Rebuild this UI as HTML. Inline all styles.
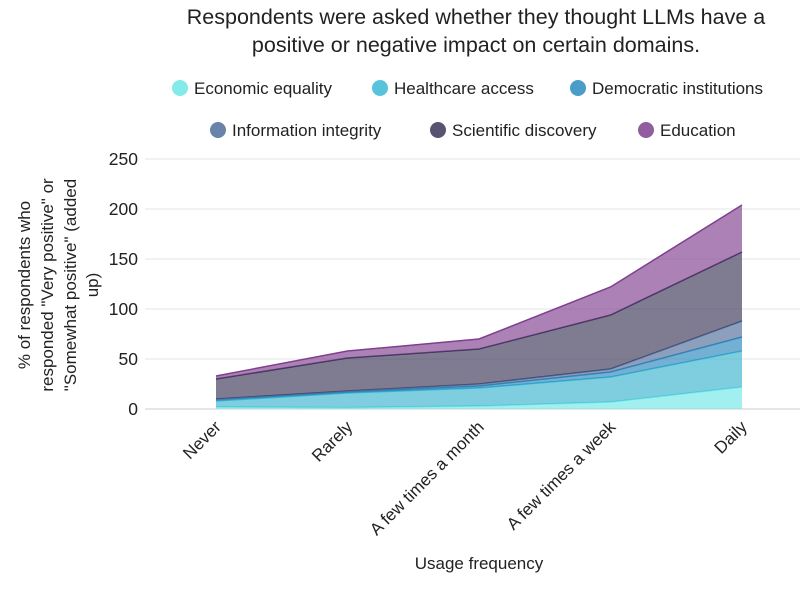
<!DOCTYPE html>
<html><head><meta charset="utf-8"><style>
body{margin:0;background:#fff;font-family:"Liberation Sans",sans-serif;}
svg text{font-family:"Liberation Sans",sans-serif;fill:#222;}
</style></head><body>
<svg width="800" height="592" viewBox="0 0 800 592" xmlns="http://www.w3.org/2000/svg">
<text x="476" y="24" font-size="21.5" text-anchor="middle">Respondents were asked whether they thought LLMs have a</text>
<text x="476" y="52" font-size="21.5" text-anchor="middle">positive or negative impact on certain domains.</text>
<g id="legend"></g>
<g id="grid"></g>
<g id="areas"></g>
<g id="xt"></g>
<text x="479" y="569" font-size="17" text-anchor="middle">Usage frequency</text>
<text transform="translate(64,285) rotate(-90)" font-size="17" text-anchor="middle"><tspan x="0" dy="-34">% of respondents who</tspan><tspan x="0" dy="23">responded "Very positive" or</tspan><tspan x="0" dy="23">"Somewhat positive" (added</tspan><tspan x="0" dy="22">up)</tspan></text>
</svg>
<script>
const categories=["Never","Rarely","A few times a month","A few times a week","Daily"];
const seriesNames=["Economic equality","Healthcare access","Democratic institutions","Information integrity","Scientific discovery","Education"];
const econ=[2,1.5,3,7,22];
const health=[6,14.5,18,25,36];
const demo=[1.5,1,2,5,14];
const info=[0.5,1,2,3,16];
const sci=[20,33,35,54,69];
const edu=[3,7,10,28,47];
const yTicks=[0,50,100,150,200,250];
const series=[econ,health,demo,info,sci,edu];
const lineCols=["#6ee6e6","#3bbad6","#2a8cc0","#4f6d9b","#3a3558","#7f3f8f"];
const fillCols=["#6ee6e6","#3bb3d0","#2a86bb","#4f6d9b","#3a3558","#7f3f8f"];
const NS="http://www.w3.org/2000/svg";
const x0=216,x1=742,yb=409,ppu=1.0;
const xs=i=>x0+i*(x1-x0)/(categories.length-1);
const ys=v=>yb-v*ppu;
function mk(t,a,p){const e=document.createElementNS(NS,t);for(const k in a)e.setAttribute(k,a[k]);p.appendChild(e);return e;}
const grid=document.getElementById('grid');
yTicks.forEach(t=>{
 const l=mk('line',{x1:145,x2:800,y1:ys(t),y2:ys(t),stroke:t===0?'#ccc':'#e6e6e6','stroke-width':1},grid);
 
 
 const tx=mk('text',{x:138,y:ys(t)+6,'font-size':17.5,'text-anchor':'end'},grid);tx.textContent=t;
 
 
});
const areas=document.getElementById('areas');
let base=categories.map(()=>0);
series.forEach((s,k)=>{
 const top=base.map((b,i)=>b+s[i]);
 let d='M'+top.map((v,i)=>xs(i)+','+ys(v)).join('L')+'L'+base.map((v,i)=>[xs(i),ys(v)]).reverse().map(p=>p.join(',')).join('L')+'Z';
 const a=mk('path',{d:d,fill:fillCols[k],'fill-opacity':0.65},areas);
 
 
 const ln=mk('polyline',{points:top.map((v,i)=>xs(i)+','+ys(v)).join(' '),fill:'none',stroke:lineCols[k],'stroke-width':1.5},areas);
 
 
 base=top;
});
const xt=document.getElementById('xt');
categories.forEach((c,i)=>{
 const t=mk('text',{transform:`translate(${xs(i)+6},${428}) rotate(-45)`,'font-size':17,'text-anchor':'end'},xt);t.textContent=c;
 
 
});
const lg=document.getElementById('legend');
const lpos=[[180,88],[380,88],[578,88],[218,130],[438,130],[646,130]];
seriesNames.forEach((n,k)=>{
 const g=mk('g',{},lg);
 
 
 mk('circle',{cx:lpos[k][0],cy:lpos[k][1],r:8,fill:lineCols[k],'fill-opacity':0.85},g);
 const t=mk('text',{x:lpos[k][0]+14,y:lpos[k][1]+6,'font-size':17},g);t.textContent=n;
});
</script>
</body></html>
